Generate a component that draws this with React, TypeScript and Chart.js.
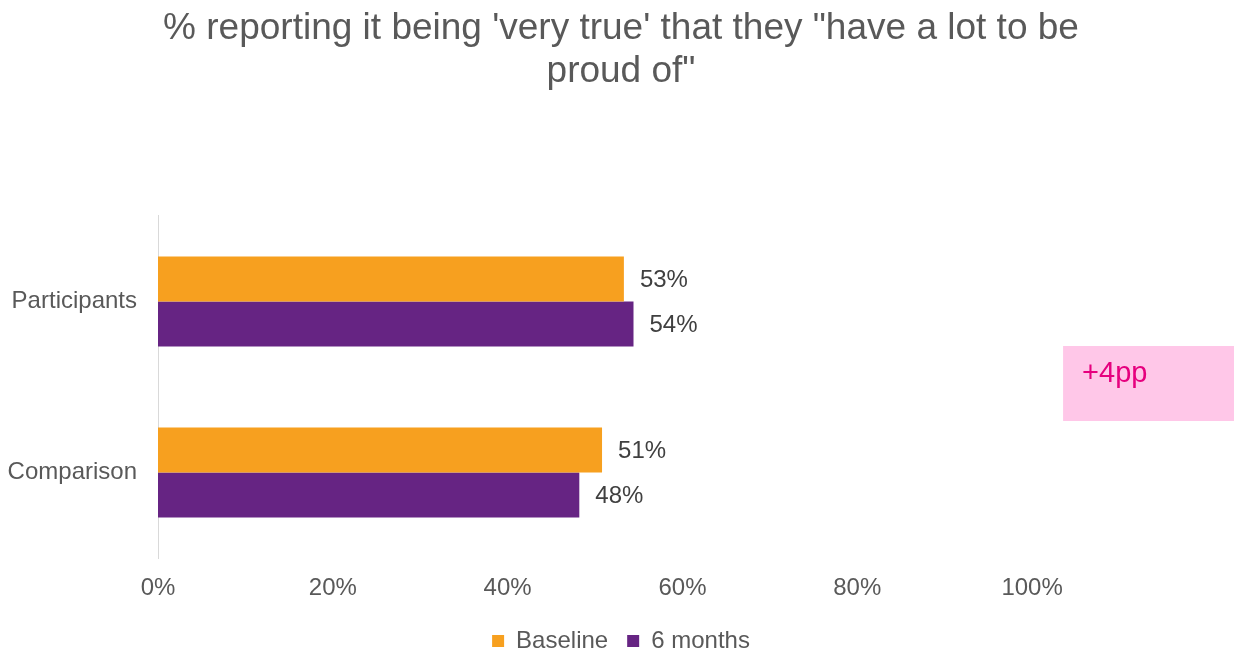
import React, { useEffect, useRef } from "react";
import { Chart, registerables } from "chart.js";

Chart.register(...registerables);

const categories = ["Participants", "Comparison"];
const baselineValues = [53.3, 50.8];
const sixMonthValues = [54.4, 48.2];
const seriesNames = ["Baseline", "6 months"];
const titleLines = ["% reporting it being 'very true' that they \"have a lot to be", "proud of\""];
const xTickValues = [0, 20, 40, 60, 80, 100];
const annotationText = "+4pp";

const FONT = "'Liberation Sans', Arial, sans-serif";

const dataLabelPlugin = {
  id: "dataLabels",
  afterDatasetsDraw(chart: any) {
    const ctx = chart.ctx;
    ctx.save();
    ctx.font = `24px ${FONT}`;
    ctx.fillStyle = "#404040";
    ctx.textAlign = "left";
    ctx.textBaseline = "middle";
    chart.data.datasets.forEach((ds: any, di: number) => {
      const meta = chart.getDatasetMeta(di);
      meta.data.forEach((bar: any, i: number) => {
        const v = ds.data[i];
        ctx.fillText(Math.round(v) + "%", bar.x + 16, bar.y + 1);
      });
    });
    ctx.restore();
  },
};

const annotationPlugin = {
  id: "diffBox",
  afterDraw(chart: any) {
    const ctx = chart.ctx;
    const a = chart.chartArea;
    const xs = chart.scales.x;
    const mid = (a.top + a.bottom) / 2;
    const left = xs.getPixelForValue(100) + 31;
    const top = mid - 41;
    const h = 75;
    ctx.save();
    ctx.fillStyle = "#FFC7E8";
    ctx.fillRect(left, top, chart.width - left, h);
    ctx.font = `29px ${FONT}`;
    ctx.fillStyle = "#E6007E";
    ctx.textAlign = "left";
    ctx.textBaseline = "middle";
    ctx.fillText(annotationText, left + 19, top + 28);
    ctx.restore();
  },
};

export default function App() {
  const ref = useRef<HTMLCanvasElement | null>(null);
  useEffect(() => {
    if (!ref.current) return;
    const chart = new Chart(ref.current, {
      type: "bar",
      data: {
        labels: categories,
        datasets: [
          {
            label: seriesNames[0],
            data: baselineValues,
            backgroundColor: "#F7A01F",
            barPercentage: 1,
            categoryPercentage: 0.526,
          },
          {
            label: seriesNames[1],
            data: sixMonthValues,
            backgroundColor: "#662483",
            barPercentage: 1,
            categoryPercentage: 0.526,
          },
        ],
      },
      options: {
        indexAxis: "y",
        animation: false,
        responsive: true,
        maintainAspectRatio: false,
        layout: { padding: { left: 8, right: 0, top: 0, bottom: 0 } },
        scales: {
          x: {
            min: 0,
            max: 123.1,
            afterBuildTicks: (scale: any) => {
              scale.ticks = xTickValues.map((v) => ({ value: v }));
            },
            afterFit: (scale: any) => {
              scale.height = 52;
            },
            ticks: {
              padding: 16,
              color: "#595959",
              font: { family: FONT, size: 24 },
              callback: (v: any) => v + "%",
            },
            grid: { display: false, drawTicks: false },
            border: { display: false },
          },
          y: {
            afterFit: (scale: any) => {
              scale.width = 150;
            },
            ticks: {
              padding: 21,
              color: "#595959",
              font: { family: FONT, size: 24 },
            },
            grid: { display: false, drawTicks: false },
            border: { display: true, color: "#D9D9D9", width: 1 },
          },
        },
        plugins: {
          title: {
            display: true,
            text: titleLines,
            color: "#595959",
            font: { family: FONT, size: 37, weight: "normal", lineHeight: 1.162 },
            padding: { top: 7, bottom: 123 },
          },
          legend: {
            display: true,
            position: "bottom",
            labels: {
              boxWidth: 12,
              boxHeight: 12,
              padding: 19,
              color: "#595959",
              font: { family: FONT, size: 24 },
            },
          },
          tooltip: { enabled: false },
        },
      },
      plugins: [dataLabelPlugin, annotationPlugin],
    });
    return () => chart.destroy();
  }, []);
  return (
    <div style={{ position: "fixed", left: 0, top: 0, width: 1234, height: 663, overflow: "hidden" }}>
      <canvas ref={ref} />
    </div>
  );
}
